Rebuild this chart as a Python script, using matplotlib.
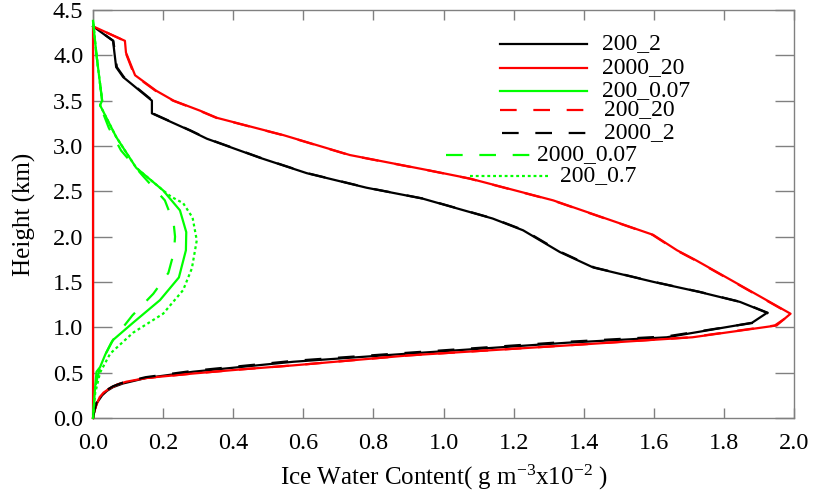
import matplotlib
matplotlib.use("Agg")
import matplotlib.pyplot as plt
from matplotlib.lines import Line2D

plt.rcParams['font.family'] = ['Liberation Serif', 'DejaVu Serif']
plt.rcParams['mathtext.fontset'] = 'custom'
plt.rcParams['mathtext.rm'] = 'Liberation Serif'
plt.rcParams['mathtext.it'] = 'Liberation Serif:italic'

# Ice water content profiles (x10^-2 g m^-3) versus height (km)
h_200_2 = [0.0, 0.08, 0.16, 0.25, 0.30, 0.34, 0.38, 0.44, 0.51, 0.62, 0.71, 0.83, 0.89, 1.05, 1.16,
           1.28, 1.39, 1.50, 1.66, 1.83, 2.07, 2.20, 2.42, 2.54, 2.70, 2.87, 3.08,
           3.17, 3.36, 3.50, 3.76, 3.87, 4.16, 4.32]
iwc_200_2 = [0.0, 0.004, 0.010, 0.026, 0.040, 0.057, 0.085, 0.150, 0.285, 0.571, 0.900, 1.352, 1.637, 1.880, 1.923,
             1.846, 1.730, 1.600, 1.427, 1.332, 1.227, 1.140, 0.940, 0.780, 0.610, 0.476, 0.325,
             0.277, 0.168, 0.168, 0.086, 0.066, 0.057, 0.0]

h_2000_2 = [0.0, 0.08, 0.17, 0.26, 0.31, 0.35, 0.39, 0.45, 0.52, 0.63, 0.72, 0.84, 0.90, 1.05, 1.16,
            1.28, 1.39, 1.50, 1.66, 1.83, 2.07, 2.20, 2.42, 2.54, 2.70, 2.87, 3.08,
            3.17, 3.36, 3.50, 3.76, 3.87, 4.16, 4.32]
iwc_2000_2 = [0.0, 0.004, 0.010, 0.026, 0.040, 0.057, 0.085, 0.150, 0.285, 0.571, 0.900, 1.352, 1.637, 1.885, 1.925,
              1.848, 1.732, 1.602, 1.430, 1.335, 1.230, 1.142, 0.942, 0.782, 0.612, 0.478, 0.327,
              0.279, 0.170, 0.170, 0.088, 0.068, 0.058, 0.0]

h_2000_20 = [0.0, 0.05, 0.09, 0.16, 0.23, 0.28, 0.33, 0.37, 0.40, 0.44, 0.49, 0.535, 0.58, 0.69, 0.80,
             0.89, 1.02, 1.15, 1.50, 1.74, 1.85, 2.02, 2.40, 2.64, 2.73, 2.90, 3.12, 3.31, 3.39,
             3.50, 3.61, 3.78, 4.03, 4.16, 4.32, 0.0]
iwc_2000_20 = [0.0, 0.002, 0.005, 0.011, 0.019, 0.030, 0.049, 0.070, 0.095, 0.150, 0.285, 0.420, 0.571, 0.900, 1.352,
               1.710, 1.950, 1.990, 1.830, 1.720, 1.666, 1.598, 1.313, 1.076, 0.960, 0.733, 0.543, 0.354, 0.305,
               0.230, 0.180, 0.120, 0.094, 0.091, 0.0, 0.0]

h_200_20 = [0.0, 0.05, 0.09, 0.16, 0.23, 0.28, 0.33, 0.37, 0.40, 0.44, 0.49, 0.535, 0.58, 0.69, 0.80,
            0.89, 1.02, 1.10, 1.15, 1.50, 1.74, 1.85, 2.02, 2.40, 2.64, 2.73, 2.90, 3.12, 3.31, 3.39,
            3.50, 3.61, 3.78, 4.03, 4.16, 4.32]
iwc_200_20 = [0.0, 0.002, 0.005, 0.011, 0.019, 0.030, 0.049, 0.070, 0.095, 0.150, 0.285, 0.420, 0.571, 0.900, 1.350,
              1.705, 1.945, 1.975, 1.988, 1.828, 1.718, 1.664, 1.596, 1.311, 1.074, 0.958, 0.731, 0.541, 0.352,
              0.303, 0.228, 0.178, 0.118, 0.093, 0.090, 0.0]

h_200_007 = [0.0, 0.34, 0.51, 0.56, 0.70, 0.83, 0.86, 1.05, 1.30, 1.55, 1.85, 2.05, 2.29,
             2.51, 2.76, 3.10, 3.45, 3.50, 4.00, 4.38]
iwc_200_007 = [0.0, 0.006, 0.010, 0.020, 0.035, 0.052, 0.057, 0.114, 0.191, 0.245, 0.265, 0.266, 0.248,
               0.200, 0.123, 0.066, 0.020, 0.026, 0.010, 0.0]

h_2000_007 = [0.0, 0.34, 0.56, 0.70, 0.86, 1.13, 1.37, 1.60, 1.83, 2.00, 2.15, 2.40, 2.68,
              2.95, 3.20, 3.45, 3.50, 4.00, 4.38]
iwc_2000_007 = [0.0, 0.006, 0.020, 0.035, 0.057, 0.112, 0.172, 0.215, 0.231, 0.234, 0.230, 0.205, 0.140,
                0.080, 0.045, 0.020, 0.026, 0.010, 0.0]

h_200_07 = [0.0, 0.27, 0.50, 0.71, 0.94, 1.15, 1.41, 1.65, 1.96, 2.21, 2.37, 2.44,
            2.51, 2.76, 3.10, 3.45, 3.50, 4.00, 4.38]
iwc_200_07 = [0.0, 0.006, 0.020, 0.049, 0.114, 0.200, 0.257, 0.282, 0.296, 0.284, 0.257, 0.223,
              0.200, 0.123, 0.066, 0.020, 0.026, 0.010, 0.0]

x_ticks = [0.0, 0.2, 0.4, 0.6, 0.8, 1.0, 1.2, 1.4, 1.6, 1.8, 2.0]
y_ticks = [0.0, 0.5, 1.0, 1.5, 2.0, 2.5, 3.0, 3.5, 4.0, 4.5]

RED = '#ff0000'
GREEN = '#00ff00'
BLACK = '#000000'
LW = 1.6
DASH = (0, (7.5, 7.5))
DOT = (0, (1.3, 1.3))

series = [
    ('200_2', iwc_200_2, h_200_2, BLACK, '-'),
    ('2000_20', iwc_2000_20, h_2000_20, RED, '-'),
    ('200_0.07', iwc_200_007, h_200_007, GREEN, '-'),
    ('200_20', iwc_200_20, h_200_20, RED, DASH),
    ('2000_2', iwc_2000_2, h_2000_2, BLACK, DASH),
    ('2000_0.07', iwc_2000_007, h_2000_007, GREEN, DASH),
    ('200_0.7', iwc_200_07, h_200_07, GREEN, DOT),
]

fig = plt.figure(figsize=(8.16, 4.95), dpi=100)
ax = fig.add_axes([0.1140, 0.1556, 0.8591, 0.8242])

for name, x, y, c, ls in series:
    ax.plot(x, y, color=c, linestyle=ls, linewidth=LW, clip_on=False, zorder=3)

ax.set_xlim(0, 2.0)
ax.set_ylim(0, 4.5)
ax.set_xticks(x_ticks)
ax.set_yticks(y_ticks)
ax.set_xticklabels([f'{v:.1f}' for v in x_ticks])
ax.set_yticklabels([f'{v:.1f}' for v in y_ticks])

spine_color = '#808080'
for s in ax.spines.values():
    s.set_color(spine_color)
    s.set_linewidth(1.0)
ax.tick_params(axis='both', direction='in', colors=spine_color, labelcolor='black',
               labelsize=17.5, top=True, right=True, width=1.0)
ax.tick_params(axis='x', length=7, pad=11)
ax.tick_params(axis='y', length=14, pad=7)

ax.set_xlabel('Ice Water Content( g m$^{\\mathregular{-3}}$x10$^{\\mathregular{-2}}$ )',
              fontsize=18, labelpad=6)
ax.set_ylabel('Height (km)', fontsize=18, labelpad=12)

# hand-placed legend entries (axes-fraction coordinates)
legend_layout = [
    (0.5806, 0.7047, 0.9167, 0.7261),
    (0.5806, 0.7047, 0.8578, 0.7261),
    (0.5806, 0.7047, 0.8015, 0.7261),
    (0.5806, 0.7033, 0.7549, 0.7290),
    (0.5835, 0.7062, 0.6985, 0.7290),
    (0.5036, 0.6263, 0.6446, 0.6334),
    (0.5378, 0.6519, 0.5931, 0.6662),
]
for (name, x, y, c, ls), (x0, x1, yy, tx) in zip(series, legend_layout):
    ax.add_line(Line2D([x0, x1], [yy, yy], color=c, linestyle=ls, linewidth=LW,
                       transform=ax.transAxes, zorder=4))
    ax.text(tx, yy, name, transform=ax.transAxes, fontsize=17, va='center', ha='left',
            zorder=5)

fig.savefig('out.png', dpi=100)
